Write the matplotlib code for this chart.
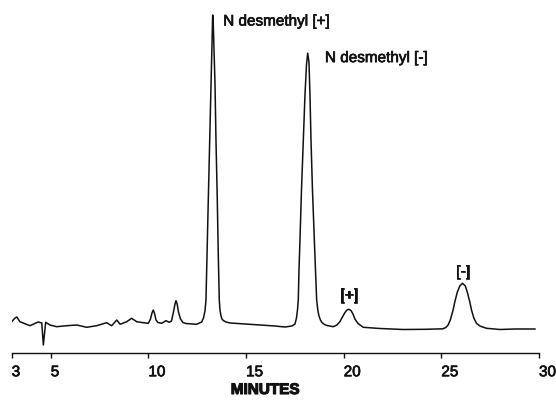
import matplotlib
matplotlib.use("Agg")
import matplotlib.pyplot as plt
import matplotlib.patheffects as pe

# Chromatogram trace: time (minutes) and detector response (arbitrary units)
time_min = [3.00, 3.17, 3.26, 3.42, 3.94, 4.35, 4.54, 4.62, 4.74, 4.96,
            5.30, 5.82, 6.33, 6.84, 7.35, 7.86, 8.12, 8.38, 8.55, 8.89,
            9.14, 9.40, 9.74, 9.994, 10.107, 10.183, 10.250, 10.321, 10.388, 10.490,
            10.680, 10.900, 11.069, 11.182, 11.284, 11.361, 11.412, 11.473, 11.540, 11.642,
            11.770, 11.924, 12.47, 12.728, 12.820, 12.897, 12.948, 12.999, 13.066, 13.127,
            13.189, 13.240, 13.271, 13.291, 13.322, 13.358, 13.409, 13.460, 13.527, 13.578,
            13.629, 13.665, 13.716, 13.767, 13.834, 13.972, 14.177, 14.95, 15.71, 16.48,
            16.99, 17.351, 17.505, 17.582, 17.633, 17.674, 17.710, 17.761, 17.838, 17.930,
            18.017, 18.094, 18.156, 18.222, 18.273, 18.325, 18.401, 18.494, 18.555, 18.616,
            18.673, 18.734, 18.810, 18.887, 19.015, 19.143, 19.466, 19.653, 19.806, 19.934,
            20.064, 20.166, 20.269, 20.371, 20.474, 20.576, 20.730, 21.002, 21.86, 23.04,
            24.16, 25.074, 25.228, 25.345, 25.458, 25.601, 25.689, 25.817, 25.945, 26.083,
            26.227, 26.329, 26.457, 26.544, 26.662, 26.800, 26.969, 27.312, 28.00, 28.77,
            29.79]
response = [1.06, 2.26, 2.58, 1.06, -0.23, 0.97, 0.65, -6.45, 0.87, 0.00,
            -0.55, -0.23, 0.00, -0.74, -0.23, 0.74, -0.23, 1.61, 0.23, 1.06,
            2.16, 1.06, 0.74, 0.55, 1.94, 3.87, 4.84, 3.55, 1.61, 0.81,
            0.55, 1.39, 0.87, 1.29, 4.19, 6.77, 7.84, 6.77, 4.19, 1.94,
            0.81, 0.48, 0.23, 0.97, 2.26, 4.52, 8.06, 22.6, 40.3, 56.5,
            72.6, 87.1, 95.2, 100.0, 96.8, 88.7, 78.1, 59.7, 40.3, 22.6,
            8.06, 4.84, 2.90, 1.94, 1.45, 0.97, 0.65, 0.32, 0.00, -0.32,
            -0.65, -0.32, 0.32, 2.26, 4.84, 8.06, 17.7, 27.4, 43.5, 59.7,
            74.2, 83.9, 87.7, 84.8, 74.2, 59.7, 43.5, 27.4, 17.7, 8.06,
            4.84, 2.90, 1.61, 0.81, 0.16, -0.16, -0.55, 0.00, 1.06, 2.58,
            4.03, 4.84, 5.06, 4.68, 3.55, 1.94, 0.48, -0.74, -1.13, -1.45,
            -1.39, -1.23, -0.81, 0.00, 1.61, 4.84, 7.42, 10.6, 12.6, 13.45,
            12.6, 10.6, 7.42, 4.84, 2.26, 0.55, -0.32, -1.06, -1.45, -1.29,
            -1.29]

tick_values = [3, 5, 10, 15, 20, 25, 30]
tick_labels = ["3", "5", "10", "15", "20", "25", "30"]

peak_labels = ["N desmethyl [+]", "N desmethyl [-]", "[+]", "[-]"]

plt.rcParams['font.family'] = ['Liberation Sans', 'DejaVu Sans']

INK = "#111111"
thick = [pe.withStroke(linewidth=0.5, foreground=INK)]

W, H = 556, 401
fig = plt.figure(figsize=(W / 100, H / 100), dpi=100)
left, right = 11.7, 539.0
bottom_px = 353.3
ax = fig.add_axes([left / W, (H - bottom_px) / H, (right - left) / W, bottom_px / H])

ax.plot(time_min, response, color=INK, lw=1.1, solid_joinstyle="round")

ax.set_xlim(3, 30)
ax.set_ylim(-(bottom_px - 325) / 3.1, 325 / 3.1)

for s in ["top", "right", "left"]:
    ax.spines[s].set_visible(False)
ax.spines["bottom"].set_linewidth(1.0)
ax.spines["bottom"].set_color(INK)
ax.set_yticks([])
ax.set_xticks(tick_values)
ax.set_xticklabels(tick_labels, ha="left")
ax.tick_params(axis="x", direction="out", length=3.6, width=1.0, pad=5,
               labelsize=11, colors=INK)
for lab in ax.get_xticklabels():
    lab.set_path_effects(thick)

ax.text(13.83, 97.9, peak_labels[0], ha="left", va="center", fontsize=11, color=INK,
        path_effects=thick)
ax.text(19.04, 86.1, peak_labels[1], ha="left", va="center", fontsize=11, color=INK,
        path_effects=thick)
ax.text(20.27, 9.5, peak_labels[2], ha="center", va="center", fontsize=11, color=INK,
        path_effects=thick)
ax.text(26.10, 17.2, peak_labels[3], ha="center", va="center", fontsize=11, color=INK,
        path_effects=thick)

fig.text(265 / W, (H - 390) / H, "MINUTES", ha="center", va="center",
         fontsize=11, fontweight="bold", color=INK,
         path_effects=[pe.withStroke(linewidth=0.8, foreground=INK)])

fig.savefig("out.png", dpi=100)
